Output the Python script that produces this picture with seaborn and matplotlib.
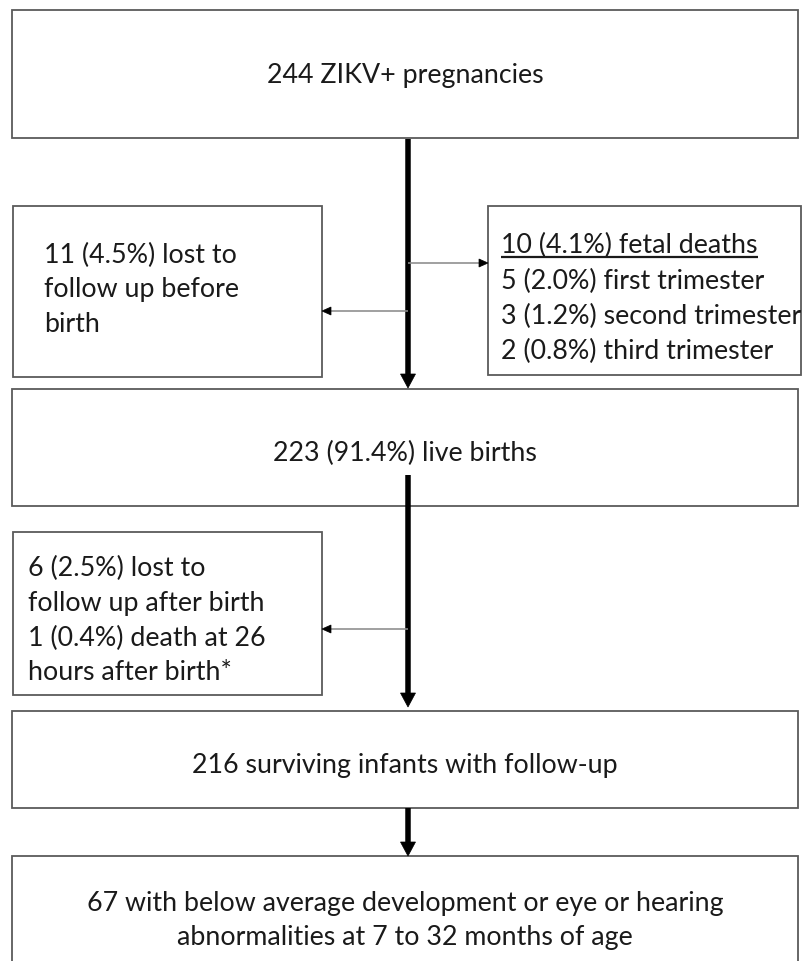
import matplotlib
matplotlib.use("Agg")
import matplotlib.pyplot as plt
import seaborn as sns
from matplotlib.patches import Rectangle, Polygon

sns.set_theme(style="white")
plt.rcParams['font.family'] = ['Lato', 'DejaVu Sans']

# ---------------- data ----------------
total_pregnancies = 244
lost_before_birth = [11, 4.5]          # count, percent
fetal_deaths = [10, 4.1]
trimester_names = ["first trimester", "second trimester", "third trimester"]
trimester_counts = [5, 3, 2]
trimester_pcts = [2.0, 1.2, 0.8]
live_births = [223, 91.4]
lost_after_birth = [6, 2.5]
neonatal_death = [1, 0.4]
neonatal_death_hours = 26
surviving_infants = 216
outcome_count = 67
age_months = [7, 32]

# ---------------- text ----------------
top_text = [f"{total_pregnancies} ZIKV+ pregnancies"]
lost1_text = [f"{lost_before_birth[0]} ({lost_before_birth[1]:.1f}%) lost to",
              "follow up before", "birth"]
fetal_head = f"{fetal_deaths[0]} ({fetal_deaths[1]:.1f}%) fetal deaths"
fetal_text = [fetal_head] + [f"{c} ({p:.1f}%) {n}" for c, p, n in
                             zip(trimester_counts, trimester_pcts, trimester_names)]
live_text = [f"{live_births[0]} ({live_births[1]:.1f}%) live births"]
lost2_text = [f"{lost_after_birth[0]} ({lost_after_birth[1]:.1f}%) lost to",
              "follow up after birth",
              f"{neonatal_death[0]} ({neonatal_death[1]:.1f}%) death at {neonatal_death_hours}",
              "hours after birth*"]
surv_text = [f"{surviving_infants} surviving infants with follow-up"]
outcome_text = [f"{outcome_count} with below average development or eye or hearing",
                f"abnormalities at {age_months[0]} to {age_months[1]} months of age"]

# ---------------- layout (pixel units, y downward) ----------------
W, H = 806, 961
fig = plt.figure(figsize=(W / 100, H / 100), dpi=100)
ax = fig.add_axes([0, 0, 1, 1])
ax.set_xlim(0, W)
ax.set_ylim(H, 0)
ax.axis('off')
sns.despine(ax=ax, left=True, bottom=True)

edge = "#5a5a5a"
boxes = {
    "top": (12, 10, 798, 138),
    "lost1": (13, 206, 322, 377),
    "fetal": (488, 206, 801, 375),
    "live": (12, 389, 798, 506),
    "lost2": (13, 532, 322, 695),
    "surv": (12, 711, 798, 808),
    "outcome": (12, 856, 798, 990),
}
patches = {}
for k, (x0, y0, x1, y1) in boxes.items():
    r = Rectangle((x0, y0), x1 - x0, y1 - y0, facecolor="white",
                  edgecolor=edge, lw=1.3, zorder=2)
    ax.add_patch(r)
    patches[k] = r

# font size fit: "10 (4.1%) fetal deaths" about 256 px wide
fig.canvas.draw()
renderer = fig.canvas.get_renderer()
probe = ax.text(0, 0, fetal_head, fontsize=18)
wpx = probe.get_window_extent(renderer).width
probe.remove()
FS = 18 * 256 / wpx

txt_color = "#1a1a1a"

def lines_left(lines, x, ys, clip=None):
    out = []
    for s, y in zip(lines, ys):
        t = ax.text(x, y, s, fontsize=FS, ha="left", va="center",
                    color=txt_color, zorder=4)
        if clip is not None:
            t.set_clip_path(clip)
        out.append(t)
    return out

def lines_center(lines, x, ys):
    for s, y in zip(lines, ys):
        ax.text(x, y, s, fontsize=FS, ha="center", va="center",
                color=txt_color, zorder=4)

lines_center(top_text, 405, [75])
lines_left(lost1_text, 44, [255, 290, 325])
ft = lines_left(fetal_text, 501, [245, 281, 316, 351], clip=patches["fetal"])
lines_center(live_text, 405, [453])
lines_left(lost2_text, 28, [568, 603, 638, 673])
lines_center(surv_text, 405, [765])
lines_center(outcome_text, 405, [903, 937])

# underline on fetal deaths header
fig.canvas.draw()
bb = ft[0].get_window_extent(renderer)
inv = ax.transData.inverted()
(ux0, _), (ux1, _) = inv.transform([(bb.x0, 0), (bb.x1, 0)])
ax.plot([ux0, ux1], [257, 257], color=txt_color, lw=1.6, zorder=4,
        solid_capstyle="butt")

# ---------------- arrows ----------------
def arrow(x0, y0, x1, y1, lw_px, head_len, head_w, line_color, head_color):
    import math
    dx, dy = x1 - x0, y1 - y0
    L = math.hypot(dx, dy)
    ux, uy = dx / L, dy / L
    bx, by = x1 - ux * head_len, y1 - uy * head_len
    ax.plot([x0, bx + ux * 1], [y0, by + uy * 1], color=line_color,
            lw=lw_px * 0.72, solid_capstyle="butt", zorder=3)
    px, py = -uy, ux
    tri = Polygon([(x1, y1), (bx + px * head_w / 2, by + py * head_w / 2),
                   (bx - px * head_w / 2, by - py * head_w / 2)],
                  closed=True, facecolor=head_color, edgecolor=head_color,
                  lw=0.5, zorder=3)
    ax.add_patch(tri)

cx = 408
arrow(cx, 139, cx, 388, 5.5, 14, 15, "black", "black")
arrow(cx, 475, cx, 707, 5.5, 14, 15, "black", "black")
arrow(cx, 808, cx, 856, 5.5, 14, 15, "black", "black")

thin = "#8c8c8c"
arrow(cx, 263, 488, 263, 1.6, 9, 8, thin, "black")
arrow(cx, 311, 322, 311, 1.6, 9, 8, thin, "black")
arrow(cx, 629, 322, 629, 1.6, 9, 8, thin, "black")

fig.savefig("out.png", dpi=100, facecolor="white")
